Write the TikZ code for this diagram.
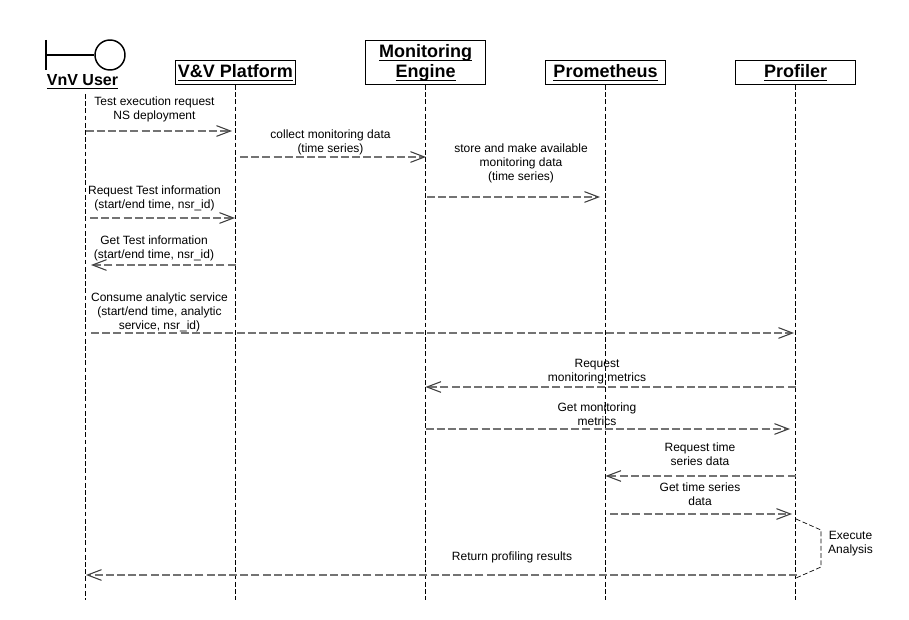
\documentclass[tikz,border=0pt]{standalone}
\usepackage{fontspec}
\setmainfont{Liberation Sans}
\usetikzlibrary{arrows.meta}
\tikzset{
  x=0.75pt,y=-0.75pt,
  head/.style={draw=black,fill=white,line width=0.75pt,inner sep=0pt,font=\bfseries\fontsize{13.5}{15}\selectfont,align=center,anchor=center,minimum height=18pt,minimum width=90pt,text height=9pt,text depth=0.8pt},
  life/.style={draw=black,line width=0.6pt,dash pattern=on 3.6pt off 1.8pt},
  msg/.style={draw=black!55,line width=1.3pt,dash pattern=on 6pt off 2.4pt,-{Straight Barb[length=10.5pt,width=8pt,black!75,line width=0.8pt]}},
  loopl/.style={draw=black,line width=0.5pt,dash pattern=on 3.6pt off 1.8pt},
  lab/.style={font=\fontsize{9}{10.5}\selectfont,align=center,inner sep=0pt}
}
\newcommand{\ul}[1]{\underline{\smash{#1}}}
\begin{document}
\begin{tikzpicture}
\useasboundingbox (0,0) rectangle (909,620);
\fill[white] (0,0) rectangle (909,620);
% lifelines ends
\coordinate (ua) at (85.5,94); \coordinate (ub) at (85.5,600);
\coordinate (pb) at (235.5,600);
\coordinate (mb) at (425.5,600);
\coordinate (rb) at (605.5,600);
\coordinate (fb) at (795.5,600);
% headers
\node[head] (plat) at (235.5,72.5) {\ul{V\&V Platform}};
\node[head,minimum height=33pt,text height=24pt,text depth=0.8pt] (mon) at (425.5,62.5) {\ul{Monitoring}\\\ul{Engine}};
\node[head] (prom) at (605.5,72.5) {\ul{Prometheus}};
\node[head] (prof) at (795.5,72.5) {\ul{Profiler}};
\node[font=\bfseries\fontsize{12}{14}\selectfont,inner sep=0pt,anchor=base] (user) at (82.5,86) {\ul{VnV User}};
\draw[life] (ua) -- (ub);
\draw[life] (plat.south) -- (pb);
\draw[life] (mon.south) -- (mb);
\draw[life] (prom.south) -- (rb);
\draw[life] (prof.south) -- (fb);
% actor
\coordinate (bt) at (45.5,40); \coordinate (bb) at (45.5,70); \coordinate (bm) at (45.5,55);
\node[draw=black,line width=1.1pt,circle,minimum size=22.5pt,inner sep=0pt] (head) at (110,55) {};
\draw[line width=1.5pt] (bt) -- (bb);
\draw[line width=1.1pt] (bm) -- (head.west);
% messages
\newcommand{\msgline}[4]{\coordinate (#1s) at (#2,#4); \coordinate (#1e) at (#3,#4); \draw[msg] (#1s) -- (#1e);}
\msgline{a}{85.5}{232}{131}
\msgline{b}{240}{426}{157}
\msgline{c}{427}{600}{197}
\msgline{d}{90}{235}{218}
\msgline{e}{235.5}{91}{265}
\msgline{f}{91}{794}{333}
\msgline{g}{795.5}{425.5}{387}
\msgline{h}{425.5}{790}{429}
\msgline{i}{795.5}{605.5}{476}
\msgline{j}{610}{792}{514}
\msgline{k}{797}{86}{575}
% labels
\node[lab] (l1) at (154.5,109.5) {Test execution request\\NS deployment};
\node[lab] (l2) at (330.5,142.5) {collect monitoring data\\(time series)};
\node[lab] (l3) at (521,163.5) {store and make available\\monitoring data\\(time series)};
\node[lab] (l4) at (154.5,198.5) {Request Test information\\(start/end time, nsr\_id)};
\node[lab] (l5) at (154,248.5) {Get Test information\\(start/end time, nsr\_id)};
\node[lab] (l6) at (159.5,312.5) {Consume analytic service\\(start/end time, analytic\\service, nsr\_id)};
\node[lab] (l7) at (597,372) {Request\\monitoring metrics};
\node[lab] (l8) at (597,414) {Get monitoring\\metrics};
\node[lab] (l9) at (700,454.5) {Request time\\series data};
\node[lab] (l10) at (700,494.5) {Get time series\\data};
\node[lab] (l11) at (512,557) {Return profiling results};
\node[lab] (l12) at (850.5,543.5) {Execute\\Analysis};
% self loop
\coordinate (s1) at (796,519); \coordinate (s2) at (821,530); \coordinate (s3) at (821,567); \coordinate (s4) at (796,578);
\draw[loopl] (s1) -- (s2) -- (s3) -- (s4);
\end{tikzpicture}
\end{document}
